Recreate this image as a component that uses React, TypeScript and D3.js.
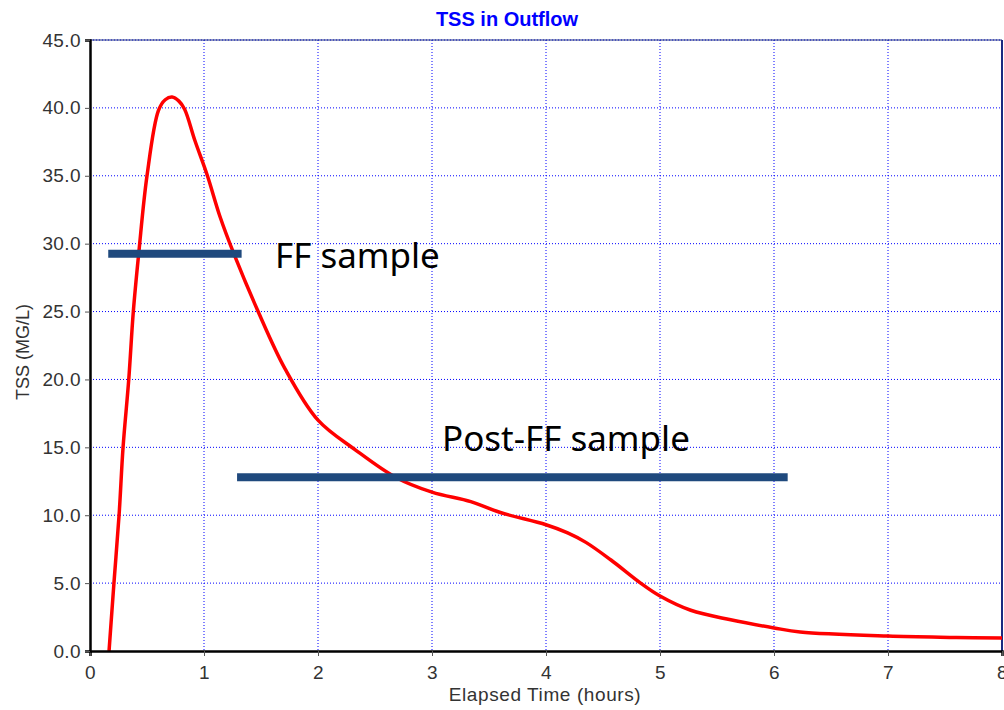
import React, { useEffect, useRef } from 'react';
import * as d3 from 'd3';

const hours = [0.167, 0.21, 0.255, 0.29, 0.34, 0.38, 0.43, 0.5, 0.6, 0.66, 0.72, 0.78, 0.83, 0.92, 1.03, 1.14, 1.26, 1.47, 1.71, 2.0, 2.33, 2.68, 3.0, 3.34, 3.6, 4.0, 4.19, 4.35, 4.57, 4.83, 5.0, 5.27, 5.62, 6.0, 6.23, 7.0, 7.6, 8.0];
const tss = [0, 5, 10, 15, 20, 25, 29.5, 35, 39.8, 40.6, 40.8, 40.5, 39.9, 37.6, 35, 32, 29.3, 25.1, 20.8, 17.0, 14.8, 12.8, 11.7, 11.0, 10.2, 9.3, 8.7, 8.0, 6.7, 5.0, 4.05, 3.0, 2.3, 1.7, 1.4, 1.1, 1.0, 0.95];

const sampleNames = ['FF sample', 'Post-FF sample'];
const sampleStart = [0.16, 1.29];
const sampleEnd = [1.33, 6.12];
const sampleLevel = [29.25, 12.8];

const xTicks = [0, 1, 2, 3, 4, 5, 6, 7, 8];
const yTicks = [0, 5, 10, 15, 20, 25, 30, 35, 40, 45];

const App = () => {
  const svgRef = useRef<SVGSVGElement>(null);

  useEffect(() => {
    const svg = d3.select(svgRef.current);
    svg.selectAll('*').remove();

    const margin = { top: 40, right: 2, bottom: 59, left: 90 };
    const width = 1004 - margin.left - margin.right;
    const height = 710 - margin.top - margin.bottom;

    const x = d3.scaleLinear().domain([0, 8]).range([margin.left, margin.left + width]);
    const y = d3.scaleLinear().domain([0, 45]).range([margin.top + height, margin.top]);

    // grid
    const grid = svg.append('g');
    grid.selectAll('.vg')
      .data(xTicks.slice(1))
      .enter()
      .append('line')
      .attr('x1', d => x(d))
      .attr('x2', d => x(d))
      .attr('y1', y(45))
      .attr('y2', y(0))
      .attr('stroke', '#0000ff')
      .attr('stroke-width', 1)
      .attr('stroke-dasharray', '1,2');
    grid.selectAll('.hg')
      .data(yTicks.slice(1))
      .enter()
      .append('line')
      .attr('x1', x(0))
      .attr('x2', x(8))
      .attr('y1', d => y(d))
      .attr('y2', d => y(d))
      .attr('stroke', '#0000ff')
      .attr('stroke-width', 1)
      .attr('stroke-dasharray', '1,2');

    // top / right frame
    svg.append('line')
      .attr('x1', x(0)).attr('x2', x(8))
      .attr('y1', y(45)).attr('y2', y(45))
      .attr('stroke', '#1a2a80').attr('stroke-width', 1);
    svg.append('line')
      .attr('x1', x(8)).attr('x2', x(8))
      .attr('y1', y(45)).attr('y2', y(0))
      .attr('stroke', '#1a2a80').attr('stroke-width', 2);

    // curve
    const pts: [number, number][] = hours.map((h, i) => [h, tss[i]]);
    const line = d3.line<[number, number]>()
      .x(d => x(d[0]))
      .y(d => y(d[1]))
      .curve(d3.curveCatmullRom.alpha(0.5));
    svg.append('path')
      .datum(pts)
      .attr('d', line)
      .attr('fill', 'none')
      .attr('stroke', '#ff0000')
      .attr('stroke-width', 3.5);

    // axes
    const xAxis = svg.append('g')
      .attr('transform', `translate(0,${y(0)})`)
      .call(d3.axisBottom(x).tickValues(xTicks).tickFormat(d3.format('d')).tickSize(5).tickPadding(10));
    const yAxis = svg.append('g')
      .attr('transform', `translate(${x(0)},0)`)
      .call(d3.axisLeft(y).tickValues(yTicks).tickFormat(d3.format('.1f')).tickSize(5).tickPadding(4));
    [xAxis, yAxis].forEach(a => {
      a.select('.domain').attr('stroke', '#000').attr('stroke-width', 2.5);
      a.selectAll('.tick line').attr('stroke', '#555');
      a.selectAll('text')
        .style('font-family', '"Liberation Sans", Arial, sans-serif')
        .style('font-size', '19px')
        .style('letter-spacing', '0.4px')
        .style('fill', '#333');
    });

    // sample bars
    svg.selectAll('.bar')
      .data(sampleNames)
      .enter()
      .append('line')
      .attr('x1', (d, i) => x(sampleStart[i]))
      .attr('x2', (d, i) => x(sampleEnd[i]))
      .attr('y1', (d, i) => y(sampleLevel[i]))
      .attr('y2', (d, i) => y(sampleLevel[i]))
      .attr('stroke', '#1f497d')
      .attr('stroke-width', 8);

    svg.append('text')
      .attr('x', 275).attr('y', 268)
      .style('font-family', '"Noto Sans", "Open Sans", sans-serif')
      .style('font-size', '35px')
      .text(sampleNames[0]);
    svg.append('text')
      .attr('x', 442).attr('y', 451)
      .style('font-family', '"Noto Sans", "Open Sans", sans-serif')
      .style('font-size', '35px')
      .text(sampleNames[1]);

    // titles
    svg.append('text')
      .attr('x', 507).attr('y', 26)
      .attr('text-anchor', 'middle')
      .style('font-family', '"Liberation Sans", Arial, sans-serif')
      .style('font-size', '20px')
      .style('font-weight', 'bold')
      .style('fill', '#0000ff')
      .text('TSS in Outflow');
    svg.append('text')
      .attr('x', 545).attr('y', 701)
      .attr('text-anchor', 'middle')
      .style('font-family', '"Liberation Sans", Arial, sans-serif')
      .style('font-size', '19px')
      .style('letter-spacing', '0.6px')
      .style('fill', '#333')
      .text('Elapsed Time (hours)');
    svg.append('text')
      .attr('transform', `translate(29,352) rotate(-90)`)
      .attr('text-anchor', 'middle')
      .style('font-family', '"Liberation Sans", Arial, sans-serif')
      .style('font-size', '18px')
      .style('fill', '#333')
      .text('TSS (MG/L)');
  }, []);

  return (
    <svg ref={svgRef} width={1004} height={710}
      style={{ position: 'absolute', left: 0, top: 0, background: '#fff' }} />
  );
};

export default App;
